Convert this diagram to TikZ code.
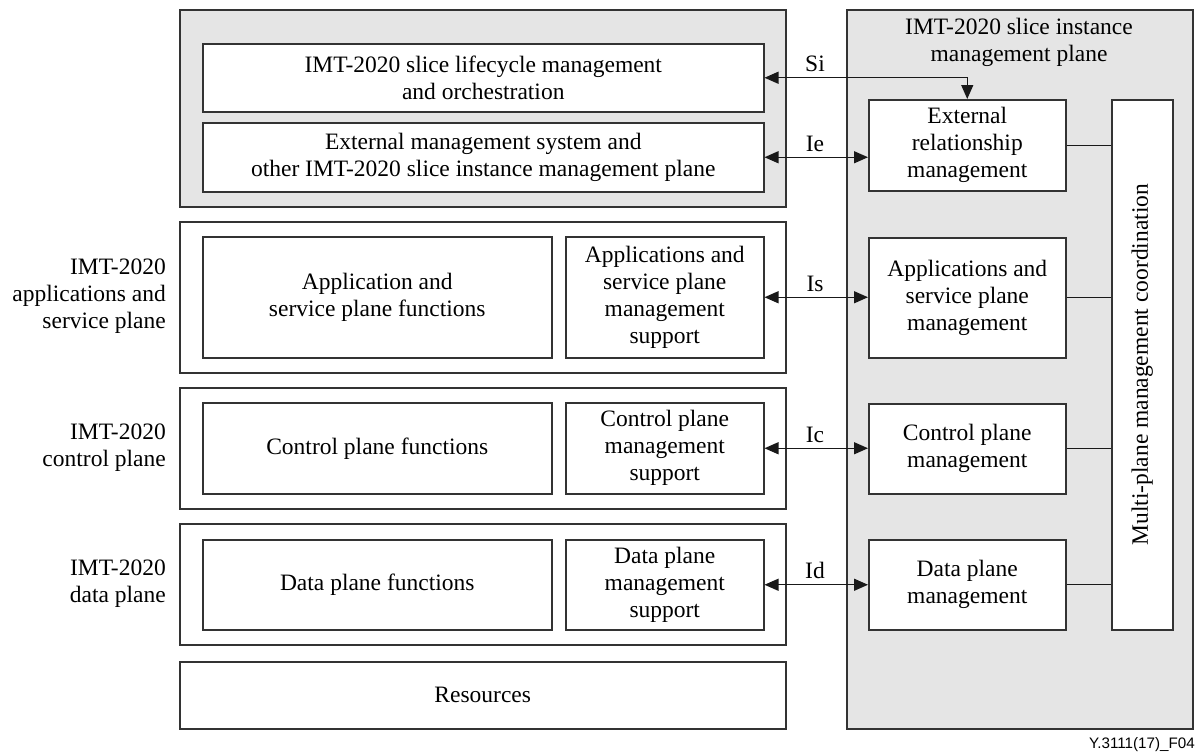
\documentclass[tikz,border=0pt]{standalone}
\usepackage{fontspec}
\setmainfont{Liberation Serif}
\newfontfamily\labelsans{Liberation Sans}
\usetikzlibrary{arrows.meta}
\begin{document}
\begin{tikzpicture}[x=1pt,y=-1pt,
  txt/.style={font=\fontsize{23.5}{27}\selectfont, align=center},
  box/.style={draw=black!80, line width=1.5pt, fill=white, inner sep=0pt, anchor=north west, txt},
  greybox/.style={draw=black!80, line width=1.5pt, fill=black!10, inner sep=0pt, anchor=north west},
  planebox/.style={draw=black!80, line width=1.5pt, fill=white, inner sep=0pt, anchor=north west},
  link/.style={draw=black!90, line width=1.3pt},
  biarrow/.style={link, {Triangle[length=14pt,width=12pt]}-{Triangle[length=14pt,width=12pt]}},
  lbl/.style={txt, inner sep=0pt, anchor=base}
]
\useasboundingbox (0,0) rectangle (1198,753);
\fill[white] (0,0) rectangle (1198,753);

% top grey group
\node[greybox, minimum width=606pt, minimum height=197pt] (topgrp) at (179,9) {};
\node[box, minimum width=561pt, minimum height=68pt] (lifecycle) at (202,43)
  {IMT-2020 slice lifecycle management\\and orchestration};
\node[box, minimum width=561pt, minimum height=69pt] (extsys) at (202,122)
  {External management system and\\other IMT-2020 slice instance management plane};

% right grey management plane
\node[greybox, minimum width=346pt, minimum height=719pt] (mgmtplane) at (846,9) {};
\node[txt, inner sep=0pt] (mgmttitle) at (1019,42) {IMT-2020 slice instance\\management plane};
\node[box, minimum width=197pt, minimum height=91pt] (extrel) at (868,99)
  {External\\relationship\\management};
\node[box, minimum width=197pt, minimum height=120pt] (asm) at (868,237)
  {Applications and\\service plane\\management};
\node[box, minimum width=197pt, minimum height=90pt] (cpm) at (868,403)
  {Control plane\\management};
\node[box, minimum width=197pt, minimum height=90pt] (dpm) at (868,539)
  {Data plane\\management};
\node[box, minimum width=61pt, minimum height=530pt] (multi) at (1111,99) {};
\node[txt, rotate=90, inner sep=0pt] (multitext) at (multi.center) {Multi-plane management coordination};

% applications and service plane
\node[planebox, minimum width=606pt, minimum height=151pt] (applane) at (179,221) {};
\node[box, minimum width=349pt, minimum height=121pt] (asf) at (202,236)
  {Application and\\service plane functions};
\node[box, minimum width=198pt, minimum height=121pt] (asms) at (565,236)
  {Applications and\\service plane\\management\\support};
\node[txt, align=right, anchor=east, inner sep=0pt] (aslabel) at (166,296.5)
  {IMT-2020\\applications and\\service plane};

% control plane
\node[planebox, minimum width=606pt, minimum height=121pt] (ctrlplane) at (179,387) {};
\node[box, minimum width=349pt, minimum height=91pt] (cpf) at (202,402)
  {Control plane functions};
\node[box, minimum width=198pt, minimum height=91pt] (cpms) at (565,402)
  {Control plane\\management\\support};
\node[txt, align=right, anchor=east, inner sep=0pt] (cplabel) at (166,447.5)
  {IMT-2020\\control plane};

% data plane
\node[planebox, minimum width=606pt, minimum height=121pt] (dataplane) at (179,523) {};
\node[box, minimum width=349pt, minimum height=90pt] (dpf) at (202,539)
  {Data plane functions};
\node[box, minimum width=198pt, minimum height=90pt] (dpms) at (565,539)
  {Data plane\\management\\support};
\node[txt, align=right, anchor=east, inner sep=0pt] (dplabel) at (166,583.5)
  {IMT-2020\\data plane};

% resources
\node[box, minimum width=606pt, minimum height=67pt] (res) at (179,661) {Resources};

% connectors
\draw[biarrow] (lifecycle.east) -| (extrel.north);
\draw[biarrow] (extsys.east) -- (extsys.east -| extrel.west);
\draw[biarrow] (asms.east) -- (asms.east -| asm.west);
\draw[biarrow] (cpms.east) -- (cpms.east -| cpm.west);
\draw[biarrow] (dpms.east) -- (dpms.east -| dpm.west);

\draw[link] (extrel.east) -- (extrel.east -| multi.west);
\draw[link] (asm.east) -- (asm.east -| multi.west);
\draw[link] (cpm.east) -- (cpm.east -| multi.west);
\draw[link] (dpm.east) -- (dpm.east -| multi.west);

% interface labels
\node[lbl] (si) at (815,71) {Si};
\node[lbl] (ie) at (815,151) {Ie};
\node[lbl] (is) at (815,291) {Is};
\node[lbl] (ic) at (815,442) {Ic};
\node[lbl] (id) at (815,578) {Id};

% figure id
\node[font=\labelsans\fontsize{15.2}{18}\selectfont, anchor=south east, inner sep=0pt] (figid) at (1195,752) {Y.3111(17)\_F04};
\end{tikzpicture}
\end{document}
